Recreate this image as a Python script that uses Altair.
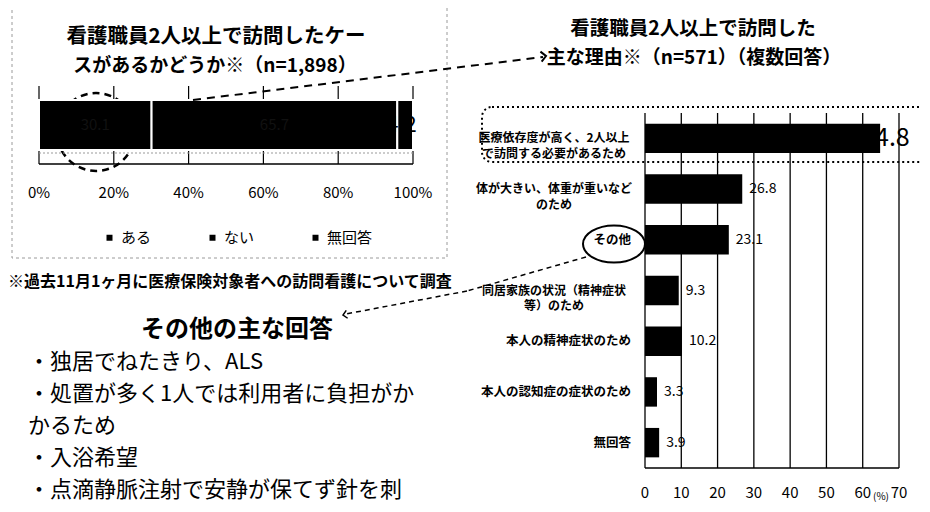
import altair as alt
import pandas as pd

# ---------------- data ----------------
exist_cats = ["ある", "ない", "無回答"]
exist_vals = [30.1, 65.7, 4.2]
exist_ticks = [0, 20, 40, 60, 80, 100]
exist_tick_labels = ["0%", "20%", "40%", "60%", "80%", "100%"]

reason_labels = [
    "医療依存度が高く、2人以上\nで訪問する必要があるため",
    "体が大きい、体重が重いなど\nのため",
    "その他",
    "同居家族の状況（精神症状\n等）のため",
    "本人の精神症状のため",
    "本人の認知症の症状のため",
    "無回答",
]
reason_vals = [64.8, 26.8, 23.1, 9.3, 10.2, 3.3, 3.9]
reason_ticks = [0, 10, 20, 30, 40, 50, 60, 70]

left_title = ["看護職員2人以上で訪問したケー", "スがあるかどうか※（n=1,898）"]
right_title = ["看護職員2人以上で訪問した", "主な理由※（n=571）（複数回答）"]
footnote = "※過去11月1ヶ月に医療保険対象者への訪問看護について調査"
other_heading = "その他の主な回答"
other_answers = [
    "・独居でねたきり、ALS",
    "・処置が多く1人では利用者に負担がか",
    "かるため",
    "・入浴希望",
    "・点滴静脈注射で安静が保てず針を刺",
]

FONT = "Noto Sans CJK JP"
OX, OY = 8, 8


def px(v):
    return v - OX


def py(v):
    return v - OY


def one(text=""):
    return alt.Chart(pd.DataFrame({"t": [text]}))


def label(text, x, y, size=14, weight="normal", align="center", baseline="middle"):
    return one(text).mark_text(
        font=FONT, fontSize=size, fontWeight=weight, align=align, baseline=baseline, color="black"
    ).encode(x=alt.value(px(x)), y=alt.value(py(y)), text="t:N")


# ---------------- left stacked bar ----------------
left_df = pd.DataFrame({
    "cat": exist_cats,
    "value": exist_vals,
    "idx": list(range(len(exist_cats))),
    "grp": ["all"] * len(exist_cats),
    "lab": [f"{v:.1f}" for v in exist_vals],
})
lticks = pd.DataFrame({"t": exist_ticks, "tl": exist_tick_labels})
lx = alt.Scale(domain=[0, 100], range=[px(39), px(413)])
ly = alt.Scale(domain=["all"], range=[py(100), py(150)], paddingInner=0, paddingOuter=0)

base_left = alt.Chart(left_df).transform_window(
    cum="sum(value)", sort=[alt.SortField("idx")], frame=[None, 0]
).transform_calculate(start="datum.cum - datum.value", mid="datum.cum - datum.value / 2")

l_grid = alt.Chart(lticks).mark_rule(color="black", strokeWidth=1.2).encode(
    x=alt.X("t:Q", scale=lx, axis=None), y=alt.value(py(86)), y2=alt.value(py(164))
)
l_axis = alt.Chart(pd.DataFrame({"a": [0], "b": [100]})).mark_rule(color="black", strokeWidth=1.5).encode(
    x=alt.X("a:Q", scale=lx, axis=None), x2="b:Q", y=alt.value(py(164))
)
l_axis2 = alt.Chart(pd.DataFrame({"a": [0], "b": [100]})).mark_rule(color="#999", strokeWidth=1, strokeDash=[2, 2]).encode(
    x=alt.X("a:Q", scale=lx, axis=None), x2="b:Q", y=alt.value(py(153))
)
l_bars = base_left.mark_bar(stroke="white", strokeWidth=2).encode(
    x=alt.X("start:Q", scale=lx, axis=None),
    x2="cum:Q",
    y=alt.Y("grp:N", scale=ly, axis=None),
    color=alt.Color(
        "cat:N",
        scale=alt.Scale(domain=exist_cats, range=["#000000", "#000000", "#000000"]),
        legend=alt.Legend(
            orient="none", legendX=px(102), legendY=py(230), direction="horizontal",
            title=None, symbolType="square", symbolSize=36, symbolStrokeWidth=0,
            labelFont=FONT, labelFontSize=15, labelOffset=4, columnPadding=38,
            gridAlign="all", labelColor="black",
        ),
    ),
)
l_seglabels = base_left.transform_filter("datum.idx < 2").mark_text(
    font=FONT, fontSize=15, color="#111111"
).encode(x=alt.X("mid:Q", scale=lx, axis=None), y=alt.Y("grp:N", scale=ly, axis=None), text="lab:N")
l_lastlabel = base_left.transform_filter("datum.idx == 2").mark_text(
    font=FONT, fontSize=22, align="left", dx=-19, color="black"
).encode(x=alt.X("mid:Q", scale=lx, axis=None), y=alt.Y("grp:N", scale=ly, axis=None), text="lab:N")
l_ticklabels = alt.Chart(lticks).mark_text(font=FONT, fontSize=15, color="black").encode(
    x=alt.X("t:Q", scale=lx, axis=None), y=alt.value(py(193)), text="tl:N"
)
left = alt.layer(l_grid, l_axis2, l_axis, l_bars, l_seglabels, l_lastlabel, l_ticklabels)

# ---------------- right bar chart ----------------
right_df = pd.DataFrame({
    "reason": reason_labels,
    "value": reason_vals,
    "lab": [f"{v:.1f}" for v in reason_vals],
    "multi": ["\n" in r for r in reason_labels],
})
rticks = pd.DataFrame({"t": reason_ticks, "tl": [str(t) for t in reason_ticks]})
rx = alt.Scale(domain=[0, 70], range=[px(645), px(899)])
ry = alt.Scale(domain=reason_labels, range=[py(113), py(468)], paddingInner=0.42, paddingOuter=0.21)

r_grid = alt.Chart(rticks).mark_rule(color="black", strokeWidth=1.3).encode(
    x=alt.X("t:Q", scale=rx, axis=None), y=alt.value(py(113)), y2=alt.value(py(468))
)
r_axis = alt.Chart(pd.DataFrame({"a": [0], "b": [70]})).mark_rule(color="black", strokeWidth=1.5).encode(
    x=alt.X("a:Q", scale=rx, axis=None), x2="b:Q", y=alt.value(py(468))
)
r_bars = alt.Chart(right_df).mark_bar(color="black").encode(
    x=alt.X("value:Q", scale=rx, axis=None), y=alt.Y("reason:N", scale=ry, axis=None)
)
r_vals = alt.Chart(right_df).transform_filter("datum.value < 60").mark_text(
    font=FONT, fontSize=14, align="left", dx=7, color="black"
).encode(x=alt.X("value:Q", scale=rx, axis=None), y=alt.Y("reason:N", scale=ry, axis=None), text="lab:N")
r_big = alt.Chart(right_df).transform_filter("datum.value >= 60").mark_text(
    font=FONT, fontSize=25, align="left", dx=-19, color="black"
).encode(x=alt.X("value:Q", scale=rx, axis=None), y=alt.Y("reason:N", scale=ry, axis=None), text="lab:N")
r_cats_single = alt.Chart(right_df).transform_filter("!datum.multi").mark_text(
    font=FONT, fontSize=12.5, fontWeight="bold", align="right", color="black"
).encode(x=alt.value(px(631)), y=alt.Y("reason:N", scale=ry, axis=None), text="reason:N")
r_cats_multi = alt.Chart(right_df).transform_filter("datum.multi").mark_text(
    font=FONT, fontSize=12, fontWeight="bold", align="center", lineBreak="\n", lineHeight=15.5, color="black"
).encode(x=alt.value(px(554)), y=alt.Y("reason:N", scale=ry, axis=None), text="reason:N")
r_ticklabels = alt.Chart(rticks).mark_text(font=FONT, fontSize=15, color="black").encode(
    x=alt.X("t:Q", scale=rx, axis=None), y=alt.value(py(493)), text="tl:N"
)
right = alt.layer(r_grid, r_axis, r_bars, r_vals, r_big, r_cats_single, r_cats_multi, r_ticklabels)

# ---------------- annotations ----------------
ELLIPSE = "M-1,0A1,0.6,0,1,1,1,0A1,0.6,0,1,1,-1,0Z"
CHEVRON = "M-1,-1L0,0L-1,1"

left_box = one().mark_rect(fillOpacity=0, stroke="#9a9a9a", strokeWidth=1, strokeDash=[3, 3]).encode(
    x=alt.value(px(12)), x2=alt.value(px(447)), y=alt.value(py(5)), y2=alt.value(py(258))
)
right_box = one().mark_rect(fillOpacity=0, stroke="black", strokeWidth=2, strokeDash=[2, 3], cornerRadius=10).encode(
    x=alt.value(px(482)), x2=alt.value(px(940)), y=alt.value(py(107)), y2=alt.value(py(162))
)
left_circle = one().mark_point(shape="circle", size=78 * 78, filled=False, color="black",
                               strokeWidth=2.5, strokeDash=[7, 5], opacity=1).encode(
    x=alt.value(px(96)), y=alt.value(py(132))
)
other_ellipse = one().mark_point(shape=ELLIPSE, size=62 * 62, filled=False, color="black",
                                 strokeWidth=2, opacity=1).encode(
    x=alt.value(px(614)), y=alt.value(py(244))
)
arrow1 = one().mark_rule(color="black", strokeWidth=2, strokeDash=[8, 6]).encode(
    x=alt.value(px(193)), y=alt.value(py(100)), x2=alt.value(px(543)), y2=alt.value(py(57))
)
arrow1_head = one().mark_point(shape=CHEVRON, size=100, filled=False, color="black",
                               strokeWidth=2, angle=353, opacity=1).encode(
    x=alt.value(px(546)), y=alt.value(py(56))
)
arrow2a = one().mark_rule(color="black", strokeWidth=1.5, strokeDash=[5, 4]).encode(
    x=alt.value(px(586)), y=alt.value(py(257)), x2=alt.value(px(467)), y2=alt.value(py(291))
)
arrow2b = one().mark_rule(color="black", strokeWidth=1.5, strokeDash=[5, 4]).encode(
    x=alt.value(px(467)), y=alt.value(py(291)), x2=alt.value(px(346)), y2=alt.value(py(314))
)
arrow2_head = one().mark_point(shape=CHEVRON, size=64, filled=False, color="black",
                               strokeWidth=1.5, angle=170, opacity=1).encode(
    x=alt.value(px(343)), y=alt.value(py(315))
)

texts = [
    label(left_title[0], 216, 37, size=20.5, weight="bold"),
    label(left_title[1], 215, 66, size=19, weight="bold"),
    label(right_title[0], 693, 29, size=19.5, weight="bold"),
    label(right_title[1], 694, 58, size=19, weight="bold"),
    label(footnote, 8, 282, size=16, weight="bold", align="left"),
    label(other_heading, 237, 330, size=24, weight="bold"),
    label("(%)", 881, 497, size=10),
]
bullet_y = [362, 394, 426, 458, 490]
for txt, yy in zip(other_answers, bullet_y):
    texts.append(label(txt, 28, yy, size=22, align="left"))

chart = alt.layer(
    left_box, left_circle, left, right, right_box, other_ellipse,
    arrow1, arrow1_head, arrow2a, arrow2b, arrow2_head, *texts
).resolve_scale(
    x="independent", y="independent"
).properties(
    width=914, height=496, autosize=alt.AutoSizeParams(type="none"), padding=0,
    background="white"
).configure_view(stroke=None)

chart.save("out.html", embed_options={"renderer": "svg", "actions": False})
